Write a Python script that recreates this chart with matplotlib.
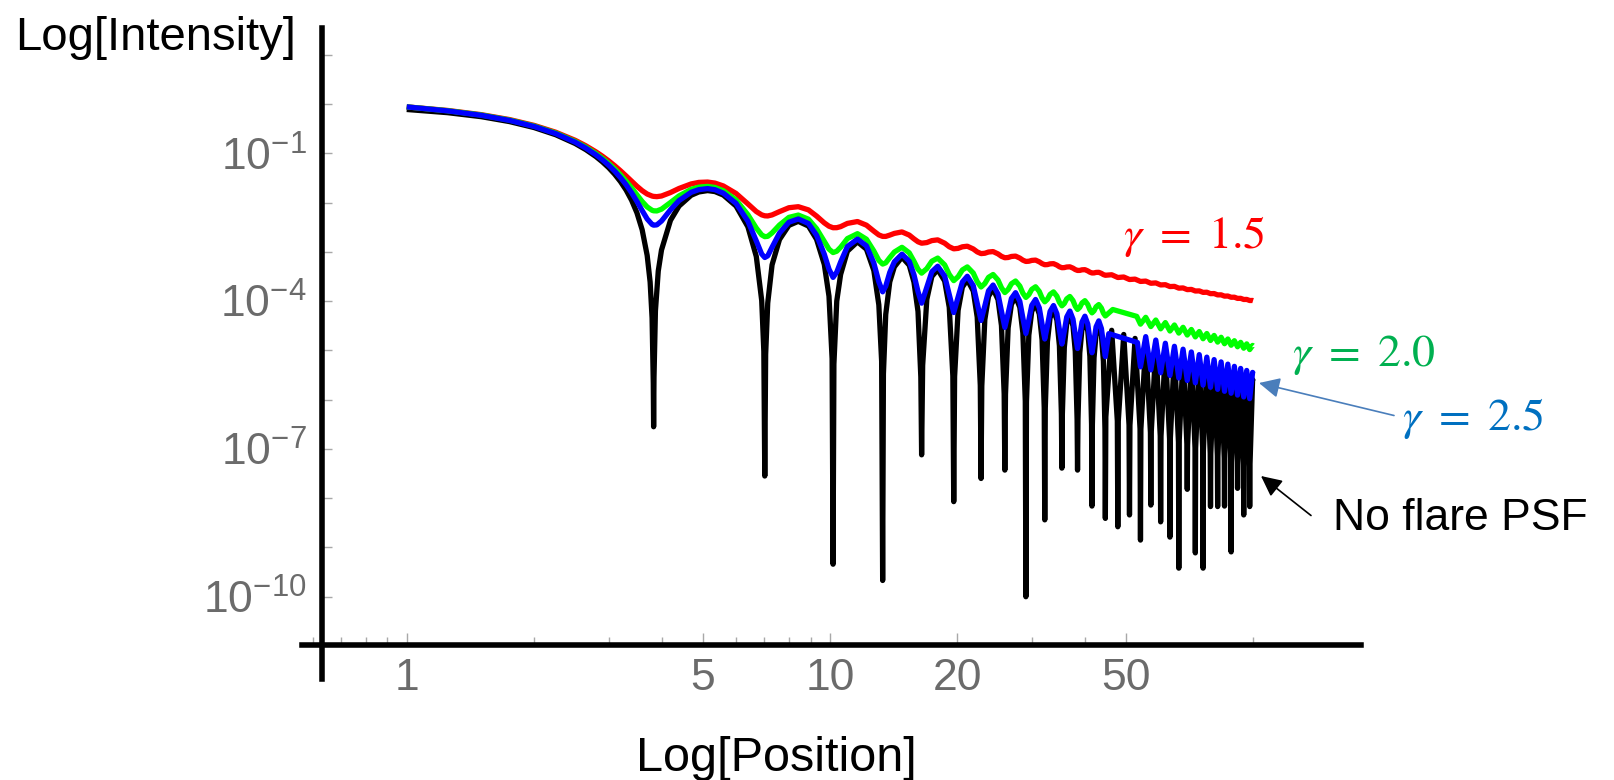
import numpy as np
import matplotlib
matplotlib.use("Agg")
import matplotlib.pyplot as plt
from matplotlib.ticker import FixedLocator, FixedFormatter, NullFormatter

plt.rcParams['font.family'] = ['Liberation Sans', 'DejaVu Sans']
plt.rcParams['mathtext.fontset'] = 'custom'
plt.rcParams['mathtext.rm'] = 'Liberation Sans'
plt.rcParams['mathtext.it'] = 'Liberation Sans:italic'
plt.rcParams['mathtext.bf'] = 'Liberation Sans:bold'

# ---------------- data (intensities as log10) ----------------
# No flare PSF (black)
black_x = (
    [1.0, 1.25, 1.5, 1.75, 2.0, 2.25, 2.5, 2.65, 2.8, 2.9, 3.0, 3.1, 3.2, 3.3, 3.4, 3.5, 3.6, 3.7, 3.76, 3.8, 3.825]
    + [3.832, 3.84, 3.87, 3.93, 4.0, 4.2, 4.4, 4.7, 4.9, 5.14, 5.35, 5.6, 6.0, 6.4, 6.7, 6.9, 6.98]
    + [7.016, 7.05, 7.13, 7.3, 7.6, 8.0, 8.42, 8.9, 9.3, 9.7, 9.95, 10.12]
    + [10.173, 10.22, 10.38, 10.6, 11.0, 11.62, 12.2, 12.7, 13.05, 13.25]
    + [13.324, 13.38, 13.55, 13.85, 14.2, 14.8, 15.4, 15.8, 16.15, 16.4]
    + [16.471, 16.565, 16.943, 17.414, 17.98, 18.672, 19.144, 19.522]
    + [19.616, 19.710, 20.088, 20.559, 21.12, 21.817, 22.288, 22.666]
    + [22.760, 22.854, 23.232, 23.703, 24.30, 24.961, 25.432, 25.810]
    + [25.904, 25.998, 26.375, 26.847, 27.46, 28.105, 28.576, 28.953]
    + [29.047, 29.141, 29.518, 29.990, 30.62, 31.248, 31.719, 32.096]
    + [32.190, 32.284, 32.661, 33.133, 33.76, 34.391, 34.861, 35.238]
    + [35.332, 35.426, 35.803, 36.275, 36.90, 37.533, 38.003, 38.381]
    + [38.475, 38.569, 38.946, 39.418, 40.05, 40.676, 41.146, 41.523]
    + [41.617, 41.711, 42.088, 42.560, 43.19, 43.818, 44.288, 44.665]
    + [44.759, 44.885, 46.33, 47.775]
    + [47.901, 48.027, 49.47, 50.917]
    + [51.043, 51.169, 52.61, 54.059]
    + [54.185, 54.311, 55.76, 57.201]
    + [57.327, 57.453, 58.90, 60.343]
    + [60.469, 60.595, 62.04, 63.485]
    + [63.611, 63.737, 65.18, 66.627]
    + [66.753, 66.879, 68.32, 69.769]
    + [69.895, 70.021, 71.47, 72.910]
    + [73.036, 73.162, 74.61, 76.052]
    + [76.178, 76.304, 77.75, 79.194]
    + [79.320, 79.446, 80.89, 82.336]
    + [82.462, 82.588, 84.03, 85.478]
    + [85.604, 85.730, 87.17, 88.619]
    + [88.745, 88.871, 90.32, 91.761]
    + [91.887, 92.013, 93.46, 94.903]
    + [95.029, 95.155, 96.60, 98.045]
    + [98.171, 98.297, 99.74, 100.0]
)
black_log = (
    [-0.111, -0.176, -0.257, -0.357, -0.478, -0.624, -0.801, -0.926, -1.067, -1.174, -1.291, -1.424, -1.574, -1.747, -1.954, -2.210, -2.551, -3.073, -3.614, -4.343, -5.66]
    + [-6.55, -5.55, -4.20, -3.39, -2.963, -2.361, -2.071, -1.852, -1.785, -1.757, -1.777, -1.848, -2.070, -2.491, -3.095, -3.99, -5.02]
    + [-7.55, -5.08, -4.04, -3.264, -2.751, -2.463, -2.381, -2.477, -2.746, -3.256, -3.90, -5.17]
    + [-9.34, -5.28, -4.00, -3.46, -2.986, -2.796, -2.947, -3.378, -4.076, -5.22]
    + [-9.67, -5.48, -4.27, -3.61, -3.305, -3.108, -3.272, -3.616, -4.21, -5.54]
    + [-7.12, -5.305, -3.967, -3.501, -3.359, -3.592, -4.126, -5.519]
    + [-8.07, -5.531, -4.189, -3.717, -3.568, -3.795, -4.324, -5.713]
    + [-7.60, -5.724, -4.378, -3.903, -3.751, -3.970, -4.496, -5.883]
    + [-7.43, -5.892, -4.544, -4.065, -3.910, -4.125, -4.648, -6.032]
    + [-10.0, -6.041, -4.690, -4.209, -4.052, -4.263, -4.784, -6.167]
    + [-8.44, -6.174, -4.822, -4.339, -4.179, -4.387, -4.907, -6.288]
    + [-7.39, -6.295, -4.942, -4.457, -4.295, -4.501, -5.020, -6.399]
    + [-7.43, -6.406, -5.052, -4.565, -4.402, -4.606, -5.123, -6.502]
    + [-8.16, -6.508, -5.153, -4.665, -4.500, -4.703, -5.219, -6.597]
    + [-8.41, -6.350, -4.592, -6.432]
    + [-8.58, -6.439, -4.677, -6.515]
    + [-8.34, -6.521, -4.757, -6.593]
    + [-8.85, -6.599, -4.833, -6.666]
    + [-8.14, -6.672, -4.904, -6.736]
    + [-8.48, -6.741, -4.972, -6.802]
    + [-8.79, -6.807, -5.036, -6.865]
    + [-9.42, -6.870, -5.098, -6.925]
    + [-7.82, -6.930, -5.156, -6.983]
    + [-9.11, -6.987, -5.213, -7.037]
    + [-9.42, -7.042, -5.266, -7.090]
    + [-8.17, -7.094, -5.318, -7.141]
    + [-8.17, -7.145, -5.367, -7.190]
    + [-8.16, -7.193, -5.415, -7.237]
    + [-9.09, -7.241, -5.462, -7.282]
    + [-7.80, -7.286, -5.506, -7.326]
    + [-8.34, -7.329, -5.549, -7.368]
    + [-8.17, -7.372, -5.591, -5.623]
)

# Flare curves: common sampling up to 44.76
flare_x = (
    [1.0, 1.25, 1.5, 1.75, 2.0, 2.25, 2.5, 2.65, 2.8, 2.9, 3.0, 3.1, 3.2, 3.3, 3.4, 3.5, 3.6, 3.7, 3.8]
    + [3.832, 3.9, 4.0, 4.2, 4.4, 4.7, 4.9, 5.14, 5.35, 5.6, 6.0, 6.4, 6.7, 6.9]
    + [7.016, 7.13, 7.3, 7.6, 8.0, 8.42, 8.9, 9.3, 9.7, 9.95]
    + [10.173, 10.38, 10.6, 11.0, 11.62, 12.2, 12.7, 13.05]
    + [13.324, 13.55, 13.85, 14.2, 14.8, 15.4, 15.8, 16.15]
    + [16.471, 16.943, 17.414, 17.98, 18.672, 19.144]
    + [19.616, 20.088, 20.559, 21.12, 21.817, 22.288]
    + [22.760, 23.232, 23.703, 24.30, 24.961, 25.432]
    + [25.904, 26.375, 26.847, 27.46, 28.105, 28.576]
    + [29.047, 29.518, 29.990, 30.62, 31.248, 31.719]
    + [32.190, 32.661, 33.133, 33.76, 34.391, 34.861]
    + [35.332, 35.803, 36.275, 36.90, 37.533, 38.003]
    + [38.475, 38.946, 39.418, 40.05, 40.676, 41.146]
    + [41.617, 42.088, 42.560, 43.19, 43.818, 44.288]
    + [44.759]
)
gamma15_log = (
    [-0.058, -0.131, -0.216, -0.316, -0.434, -0.573, -0.736, -0.848, -0.971, -1.059, -1.153, -1.252, -1.355, -1.461, -1.568, -1.669, -1.758, -1.827, -1.868]
    + [-1.875, -1.880, -1.867, -1.797, -1.714, -1.622, -1.591, -1.584, -1.605, -1.663, -1.815, -2.027, -2.182, -2.250]
    + [-2.269, -2.272, -2.251, -2.184, -2.105, -2.084, -2.149, -2.274, -2.413, -2.480]
    + [-2.511, -2.510, -2.489, -2.423, -2.385, -2.459, -2.580, -2.657]
    + [-2.687, -2.687, -2.661, -2.626, -2.596, -2.660, -2.737, -2.796]
    + [-2.825, -2.812, -2.772, -2.757, -2.825, -2.897]
    + [-2.939, -2.930, -2.898, -2.886, -2.942, -3.001]
    + [-3.036, -3.029, -3.004, -2.995, -3.042, -3.091]
    + [-3.120, -3.115, -3.094, -3.087, -3.127, -3.169]
    + [-3.195, -3.191, -3.174, -3.168, -3.203, -3.239]
    + [-3.262, -3.259, -3.244, -3.240, -3.270, -3.303]
    + [-3.322, -3.320, -3.308, -3.304, -3.331, -3.360]
    + [-3.378, -3.377, -3.365, -3.362, -3.387, -3.413]
    + [-3.429, -3.428, -3.418, -3.416, -3.438, -3.462]
    + [-3.476]
)
gamma20_log = (
    [-0.058, -0.136, -0.223, -0.326, -0.447, -0.589, -0.759, -0.876, -1.007, -1.103, -1.206, -1.318, -1.438, -1.568, -1.704, -1.844, -1.978, -2.089, -2.157]
    + [-2.167, -2.170, -2.134, -1.999, -1.865, -1.731, -1.687, -1.672, -1.694, -1.760, -1.947, -2.246, -2.518, -2.657]
    + [-2.692, -2.686, -2.616, -2.456, -2.301, -2.254, -2.338, -2.530, -2.791, -2.945]
    + [-3.015, -2.988, -2.908, -2.731, -2.631, -2.744, -2.983, -3.173]
    + [-3.249, -3.223, -3.117, -3.004, -2.908, -3.020, -3.192, -3.352]
    + [-3.433, -3.341, -3.190, -3.127, -3.265, -3.459]
    + [-3.585, -3.505, -3.368, -3.306, -3.431, -3.605]
    + [-3.714, -3.644, -3.518, -3.460, -3.573, -3.729]
    + [-3.827, -3.764, -3.648, -3.592, -3.695, -3.839]
    + [-3.926, -3.869, -3.762, -3.709, -3.804, -3.936]
    + [-4.015, -3.963, -3.864, -3.813, -3.901, -4.024]
    + [-4.096, -4.049, -3.955, -3.906, -3.989, -4.103]
    + [-4.170, -4.126, -4.038, -3.991, -4.069, -4.176]
    + [-4.239, -4.198, -4.115, -4.070, -4.143, -4.244]
    + [-4.302]
)
gamma25_log = (
    [-0.058, -0.140, -0.229, -0.333, -0.456, -0.601, -0.774, -0.895, -1.031, -1.131, -1.240, -1.361, -1.493, -1.639, -1.801, -1.978, -2.162, -2.333, -2.444]
    + [-2.459, -2.453, -2.375, -2.147, -1.960, -1.792, -1.738, -1.717, -1.739, -1.809, -2.016, -2.377, -2.779, -3.045]
    + [-3.115, -3.082, -2.907, -2.620, -2.399, -2.333, -2.425, -2.663, -3.048, -3.352]
    + [-3.519, -3.412, -3.207, -2.892, -2.741, -2.879, -3.227, -3.608]
    + [-3.812, -3.697, -3.417, -3.203, -3.047, -3.193, -3.465, -3.806]
    + [-4.042, -3.716, -3.404, -3.292, -3.492, -3.863]
    + [-4.232, -3.921, -3.613, -3.496, -3.687, -4.046]
    + [-4.393, -4.096, -3.791, -3.674, -3.856, -4.204]
    + [-4.534, -4.247, -3.947, -3.829, -4.005, -4.343]
    + [-4.658, -4.382, -4.086, -3.967, -4.137, -4.467]
    + [-4.769, -4.502, -4.210, -4.090, -4.257, -4.580]
    + [-4.871, -4.611, -4.323, -4.202, -4.365, -4.682]
    + [-4.963, -4.711, -4.426, -4.306, -4.465, -4.776]
    + [-5.048, -4.803, -4.522, -4.401, -4.558, -4.863]
    + [-5.127]
)

# tails (beyond 44.76)
gamma15_tail_x = [46.33, 47.901, 49.47, 51.043, 52.61, 54.185, 55.76, 57.327, 58.90, 60.469,
                  62.04, 63.611, 65.18, 66.753, 68.32, 69.895, 71.47, 73.036, 74.61, 76.178,
                  77.75, 79.320, 80.89, 82.462, 84.03, 85.604, 87.17, 88.745, 90.32, 91.887,
                  93.46, 95.029, 96.60, 98.171, 99.74, 100.0]
gamma15_tail_log = [-3.465, -3.521, -3.511, -3.562, -3.554, -3.601, -3.594, -3.638, -3.631, -3.672,
                    -3.667, -3.705, -3.701, -3.737, -3.733, -3.767, -3.763, -3.795, -3.793, -3.823,
                    -3.820, -3.849, -3.847, -3.874, -3.873, -3.899, -3.897, -3.922, -3.921, -3.945,
                    -3.944, -3.967, -3.966, -3.988, -3.987, -3.990]
gamma20_tail_x = [46.6, 53.1, 54.185, 55.76, 57.327, 58.90, 60.469, 62.04, 63.611, 65.18,
                  66.753, 68.32, 69.895, 71.47, 73.036, 74.61, 76.178, 77.75, 79.320, 80.89,
                  82.462, 84.03, 85.604, 87.17, 88.745, 90.32, 91.887, 93.46, 95.029, 96.60,
                  98.171, 99.74, 100.0]
gamma20_tail_log = [-4.17, -4.31, -4.468, -4.329, -4.517, -4.384, -4.563, -4.436, -4.607, -4.485,
                    -4.649, -4.532, -4.689, -4.576, -4.727, -4.618, -4.764, -4.658, -4.799, -4.697,
                    -4.832, -4.734, -4.865, -4.769, -4.896, -4.804, -4.927, -4.837, -4.956, -4.868,
                    -4.984, -4.899, -4.907]
gamma25_tail_x = [45.6, 53.3, 54.185, 55.76, 57.327, 58.90, 60.469, 62.04, 63.611, 65.18,
                  66.753, 68.32, 69.895, 71.47, 73.036, 74.61, 76.178, 77.75, 79.320, 80.89,
                  82.462, 84.03, 85.604, 87.17, 88.745, 90.32, 91.887, 93.46, 95.029, 96.60,
                  98.171, 99.74, 100.0]
gamma25_tail_log = [-4.66, -4.84, -5.335, -4.721, -5.396, -4.790, -5.454, -4.855, -5.509, -4.917,
                    -5.561, -4.976, -5.611, -5.032, -5.659, -5.086, -5.705, -5.137, -5.749, -5.187,
                    -5.791, -5.234, -5.831, -5.279, -5.870, -5.324, -5.908, -5.366, -5.945, -5.407,
                    -5.980, -5.447, -5.471]

x_major_ticks = [1, 5, 10, 20, 50]
x_major_labels = ['1', '5', '10', '20', '50']
x_minor_ticks = [0.6, 0.7, 0.8, 0.9, 2, 3, 4, 6, 7, 8, 9, 30, 40, 100]
y_major_ticks = [1e-10, 1e-7, 1e-4, 1e-1]
y_major_labels = [r'$10^{-10}$', r'$10^{-7}$', r'$10^{-4}$', r'$10^{-1}$']
y_minor_ticks = [1e-9, 1e-8, 1e-6, 1e-5, 1e-3, 1e-2, 1e0, 1e1]

# ---------------- figure ----------------
W, H = 1614, 780
fig = plt.figure(figsize=(W / 100, H / 100), dpi=100)
fig.patch.set_facecolor('white')


def fp(x, y):
    return (x / W, 1 - y / H)


ax = fig.add_axes([301.6 / W, 1 - 679 / H, (1360.7 - 301.6) / W, (679 - 28.3) / H])
ax.set_xscale('log')
ax.set_yscale('log')
ax.set_xlim(0.5644, 179.6)
ax.set_ylim(2.14e-12, 34.4)

lw = 3.8
kw = dict(lw=lw, solid_joinstyle='round', solid_capstyle='butt')
ax.plot(black_x, 10.0 ** np.array(black_log), color='#000000', zorder=2, **kw)
ax.plot(flare_x + gamma15_tail_x, 10.0 ** np.array(gamma15_log + gamma15_tail_log),
        color='#ff0000', zorder=3, **kw)
ax.plot(flare_x + gamma20_tail_x, 10.0 ** np.array(gamma20_log + gamma20_tail_log),
        color='#00ff00', zorder=4, **kw)
ax.plot(flare_x + gamma25_tail_x, 10.0 ** np.array(gamma25_log + gamma25_tail_log),
        color='#0000ff', zorder=5, **kw)

for s in ['top', 'right']:
    ax.spines[s].set_visible(False)
ax.spines['left'].set_position(('data', 0.6307))
ax.spines['bottom'].set_position(('data', 1.03e-11))
for s in ['left', 'bottom']:
    ax.spines[s].set_linewidth(4)
    ax.spines[s].set_color('black')
    ax.spines[s].set_zorder(6)

ax.xaxis.set_major_locator(FixedLocator(x_major_ticks))
ax.xaxis.set_major_formatter(FixedFormatter(x_major_labels))
ax.xaxis.set_minor_locator(FixedLocator(x_minor_ticks))
ax.xaxis.set_minor_formatter(NullFormatter())
ax.yaxis.set_major_locator(FixedLocator(y_major_ticks))
ax.yaxis.set_major_formatter(FixedFormatter(y_major_labels))
ax.yaxis.set_minor_locator(FixedLocator(y_minor_ticks))
ax.yaxis.set_minor_formatter(NullFormatter())

tick_col = '#a8a8a8'
lab_col = '#6b6b6b'
ax.tick_params(axis='x', which='major', direction='in', length=9, width=1, color=tick_col,
               labelsize=32, labelcolor=lab_col, pad=9)
ax.tick_params(axis='x', which='minor', direction='in', length=5.5, width=1, color=tick_col)
ax.tick_params(axis='y', which='major', direction='in', length=7, width=1, color=tick_col,
               labelsize=32, labelcolor=lab_col, pad=11)
ax.tick_params(axis='y', which='minor', direction='in', length=7, width=1, color=tick_col)

# axis titles
fig.text(*fp(15, 50), 'Log[Intensity]', fontsize=34, color='black', ha='left', va='baseline')
fig.text(*fp(776, 771), 'Log[Position]', fontsize=35, color='black', ha='center', va='baseline')

# curve labels
fig.text(*fp(1123, 248), r'$\gamma\ =\ 1.5$', fontsize=33, color='#ff0000',
         math_fontfamily='stix', ha='left', va='baseline')
fig.text(*fp(1292, 366), r'$\gamma\ =\ 2.0$', fontsize=33, color='#00b050',
         math_fontfamily='stix', ha='left', va='baseline')
fig.text(*fp(1402, 430), r'$\gamma\ =\ 2.5$', fontsize=33, color='#0070c0',
         math_fontfamily='stix', ha='left', va='baseline')
fig.text(*fp(1333, 530), 'No flare PSF', fontsize=32, color='black', ha='left', va='baseline')

# arrows
ax.annotate('', xy=fp(1259, 383), xycoords='figure fraction',
            xytext=fp(1394, 415.5), textcoords='figure fraction',
            arrowprops=dict(arrowstyle='-|>,head_length=0.45,head_width=0.22', color='#4a7ebb',
                            lw=1.2, shrinkA=0, shrinkB=0, mutation_scale=28),
            annotation_clip=False)
ax.annotate('', xy=fp(1261, 476), xycoords='figure fraction',
            xytext=fp(1311, 515.5), textcoords='figure fraction',
            arrowprops=dict(arrowstyle='-|>,head_length=0.45,head_width=0.22', color='black',
                            lw=1.2, shrinkA=0, shrinkB=0, mutation_scale=28),
            annotation_clip=False)

fig.savefig('out.png', dpi=100, facecolor='white')
